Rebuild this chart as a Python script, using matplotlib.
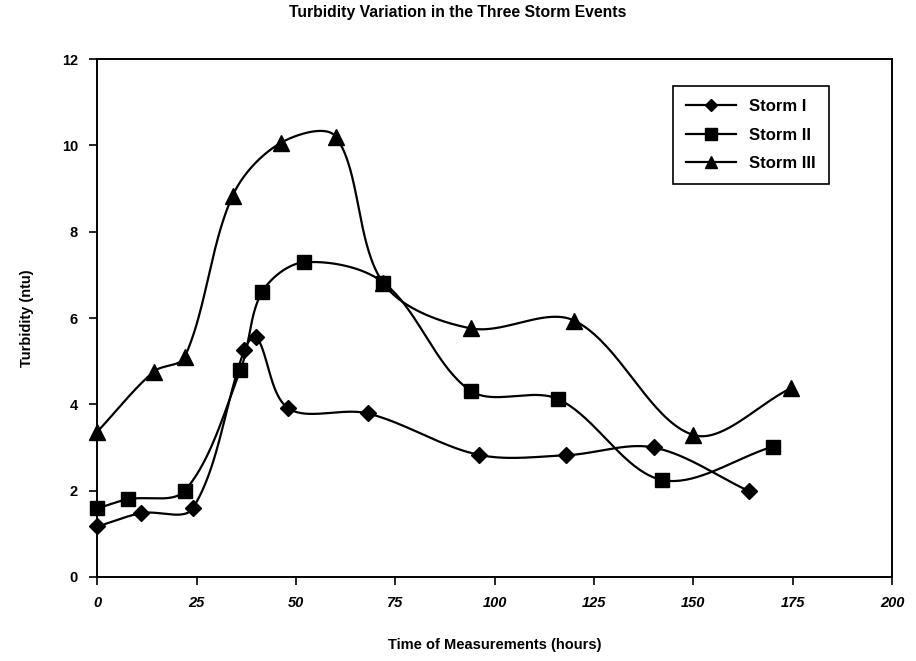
import numpy as np
import matplotlib
matplotlib.use("Agg")
import matplotlib.pyplot as plt
from matplotlib.lines import Line2D

plt.rcParams["font.family"] = ["Liberation Sans", "DejaVu Sans"]
plt.rcParams["font.weight"] = "bold"

# data
storm1_t = [0, 11, 24, 37, 40, 48, 68, 96, 118, 140, 164]
storm1_v = [1.17, 1.48, 1.59, 5.27, 5.57, 3.91, 3.79, 2.83, 2.82, 3.0, 1.99]

storm2_t = [0, 7.6, 22, 36, 41.5, 52, 72, 94, 116, 142, 170]
storm2_v = [1.59, 1.80, 2.0, 4.80, 6.61, 7.29, 6.82, 4.31, 4.12, 2.25, 3.02]

storm3_t = [0, 14.2, 22, 34, 46.2, 60, 72, 94, 120, 150, 174.5]
storm3_v = [3.37, 4.76, 5.10, 8.83, 10.06, 10.20, 6.80, 5.76, 5.94, 3.29, 4.37]

labels = ["Storm I", "Storm II", "Storm III"]
markers = ["D", "s", "^"]
msizes = [8, 10, 11]


def smooth(x, y, sx=3.97, sy=43.2, n=40):
    # smoothed line, Bezier with tangents weighted by segment length (screen space)
    p = np.column_stack([np.asarray(x) * sx, np.asarray(y) * sy]).astype(float)
    m = len(p)
    d = np.linalg.norm(np.diff(p, axis=0), axis=1)
    tan = np.zeros_like(p)
    for i in range(m):
        a = p[max(i - 1, 0)]
        b = p[min(i + 1, m - 1)]
        la = d[i - 1] if i > 0 else 0
        lb = d[i] if i < m - 1 else 0
        tan[i] = (b - a) / (la + lb)
    t = np.linspace(0, 1, n)[:, None]
    out = []
    for i in range(m - 1):
        p1, p2 = p[i], p[i + 1]
        c1 = p1 + tan[i] * d[i] / 3
        c2 = p2 - tan[i + 1] * d[i] / 3
        seg = ((1 - t) ** 3) * p1 + 3 * ((1 - t) ** 2) * t * c1 + 3 * (1 - t) * t ** 2 * c2 + t ** 3 * p2
        out.append(seg)
    out = np.vstack(out)
    return out[:, 0] / sx, out[:, 1] / sy


fig = plt.figure(figsize=(9.16, 6.61), dpi=100)
ax = fig.add_axes([0.1064, 0.1271, 0.8674, 0.7836])

series = [(storm1_t, storm1_v), (storm2_t, storm2_v), (storm3_t, storm3_v)]
handles = []
for (t, v), lab, mk, ms in zip(series, labels, markers, msizes):
    cx, cy = smooth(t, v)
    ax.plot(cx, cy, color="black", lw=1.6, zorder=2)
    ax.plot(t, v, linestyle="none", marker=mk, ms=ms, color="black", zorder=3, clip_on=False)
    handles.append(Line2D([], [], color="black", lw=1.6, marker=mk, ms=ms * 0.8))

ax.set_xlim(0, 200)
ax.set_ylim(0, 12)
ax.set_xticks(np.arange(0, 201, 25))
ax.set_yticks(np.arange(0, 13, 2))
ax.tick_params(direction="out", length=6, width=1.2, labelsize=10.5, pad=8)
for lbl in ax.get_xticklabels():
    lbl.set_fontstyle("italic")
    lbl.set_fontweight("bold")
for lbl in ax.get_yticklabels():
    lbl.set_fontweight("bold")
for s in ax.spines.values():
    s.set_linewidth(1.4)

ax.set_xlabel("Time of Measurements (hours)", fontsize=10.5, fontweight="bold", labelpad=20)
ax.set_ylabel("Turbidity (ntu)", fontsize=10.5, fontweight="bold", labelpad=20)

fig.text(0.5, 0.981, "Turbidity Variation in the Three Storm Events", ha="center", va="center",
         fontsize=11.3, fontweight="bold")

leg = ax.legend(handles, labels, loc="upper right", bbox_to_anchor=(0.921, 0.948),
                borderaxespad=0, fancybox=False, edgecolor="black", framealpha=1, fontsize=12,
                handlelength=3.0, borderpad=0.8, labelspacing=0.8, handletextpad=0.8)
leg.get_frame().set_linewidth(1.2)
for txt in leg.get_texts():
    txt.set_fontweight("bold")

fig.savefig("out.png", dpi=100)
